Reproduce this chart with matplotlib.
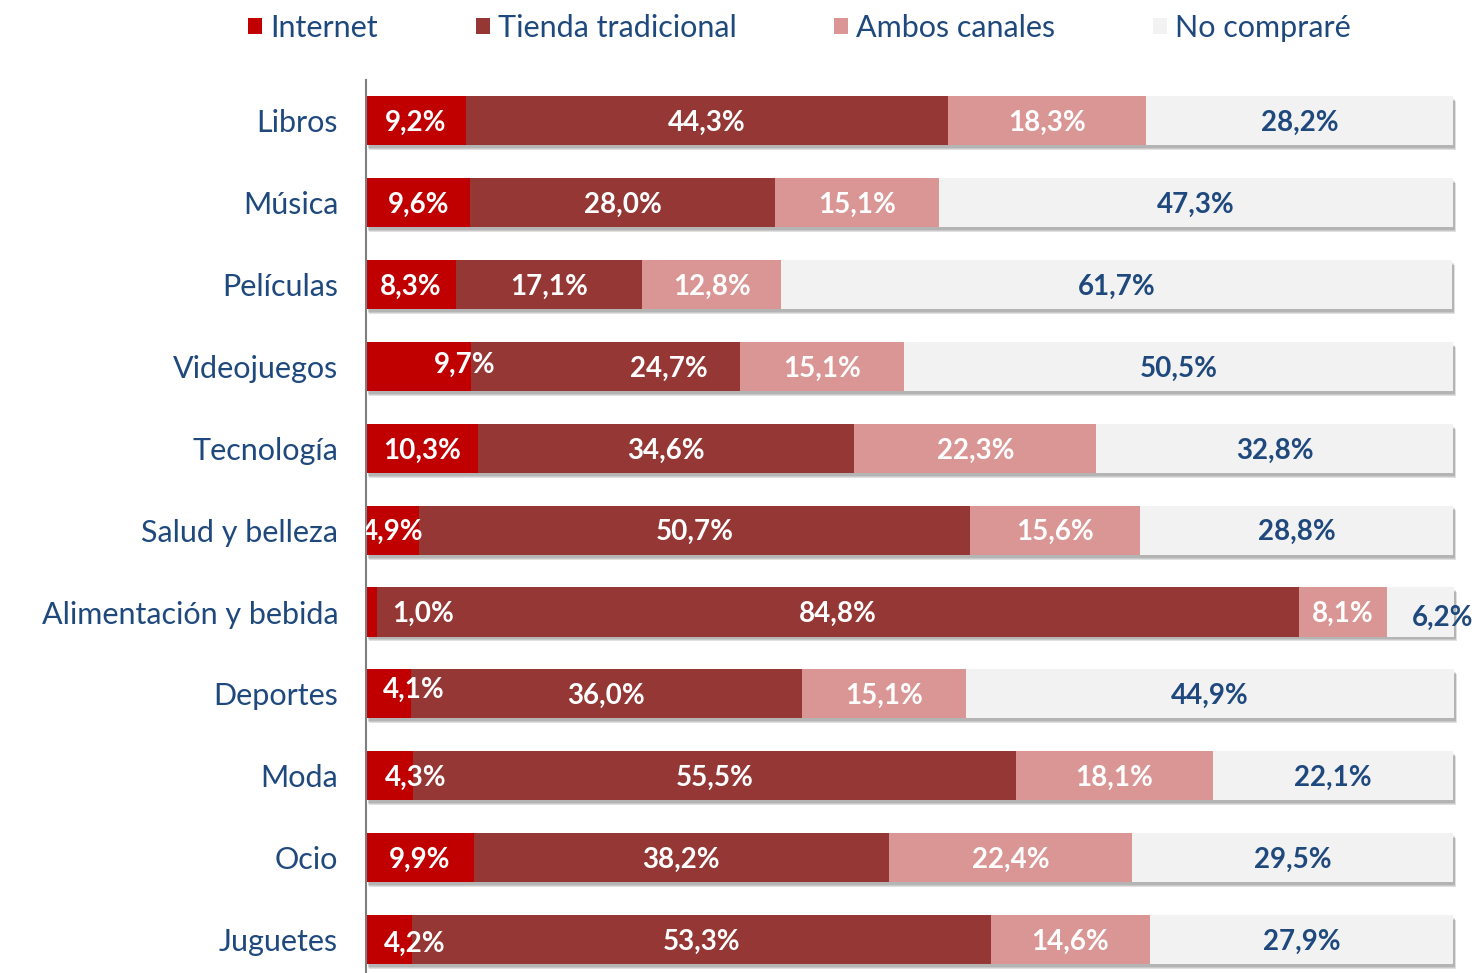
import matplotlib.pyplot as plt
import numpy as np

categories = ["Libros", "Música", "Películas", "Videojuegos", "Tecnología", "Salud y belleza",
              "Alimentación y bebida", "Deportes", "Moda", "Ocio", "Juguetes"]
series_names = ["Internet", "Tienda tradicional", "Ambos canales", "No compraré"]
internet = [9.2, 9.6, 8.3, 9.7, 10.3, 4.9, 1.0, 4.1, 4.3, 9.9, 4.2]
tienda = [44.3, 28.0, 17.1, 24.7, 34.6, 50.7, 84.8, 36.0, 55.5, 38.2, 53.3]
ambos = [18.3, 15.1, 12.8, 15.1, 22.3, 15.6, 8.1, 15.1, 18.1, 22.4, 14.6]
no_compra = [28.2, 47.3, 61.7, 50.5, 32.8, 28.8, 6.2, 44.9, 22.1, 29.5, 27.9]

colors = ["#C00000", "#953735", "#D99694", "#F2F2F2"]
text_colors = ["white", "white", "white", "#1F497D"]
blue = "#1F497D"

# label nudges (row, series) -> (dx, dy) where the original doesn't center
nudges = {(3, 0): (4.2, -0.05), (3, 1): (5.8, 0.0), (6, 0): (4.8, 0.0), (6, 3): (2.0, 0.05),
          (7, 0): (2.3, -0.08), (8, 0): (2.4, 0.0), (10, 0): (2.4, 0.03)}

plt.rcParams['font.family'] = ['Lato', 'DejaVu Sans']

fig = plt.figure(figsize=(14.78, 9.73), dpi=100)
ax = fig.add_axes([366 / 1478, 0, 1 - 366 / 1478, 1 - 80 / 973])

series = [internet, tienda, ambos, no_compra]
y = np.arange(len(categories))
totals = np.sum(series, axis=0)

# soft drop shadow behind each row
for k, a in enumerate([0.10, 0.10, 0.12]):
    ax.barh(y + 0.035 + 0.012 * k, totals, left=0.15 + 0.06 * k, height=0.6,
            color="black", alpha=a, linewidth=0, zorder=1)

left = np.zeros(len(categories))
handles = []
for j, vals in enumerate(series):
    vals = np.array(vals)
    b = ax.barh(y, vals, left=left, height=0.6, color=colors[j], linewidth=0,
                zorder=2, label=series_names[j])
    handles.append(b)
    for i, v in enumerate(vals):
        dx, dy = nudges.get((i, j), (0, 0))
        ax.text(left[i] + v / 2 + dx, y[i] + dy + 0.025, f"{v:.1f}%".replace(".", ","),
                ha="center", va="center", fontsize=20, fontweight="bold",
                color=text_colors[j], zorder=3, clip_on=True)
    left += vals

ax.set_xlim(0, 102.3)
ax.set_ylim(10.41, -0.5)
ax.set_yticks(y)
ax.set_yticklabels(categories, fontsize=22, color=blue)
ax.tick_params(axis="y", length=0, pad=20)
ax.set_xticks([])
for s in ["top", "right", "bottom"]:
    ax.spines[s].set_visible(False)
ax.spines["left"].set_color("#7f7f7f")
ax.spines["left"].set_linewidth(1.5)

leg = fig.legend(handles=handles, loc="upper center", bbox_to_anchor=(0.541, 1.014), ncol=4,
                 frameon=False, fontsize=22, handlelength=0.46, handleheight=0.46,
                 handletextpad=0.26, columnspacing=3.2)
for t in leg.get_texts():
    t.set_color(blue)

fig.savefig("out.png", dpi=100)
